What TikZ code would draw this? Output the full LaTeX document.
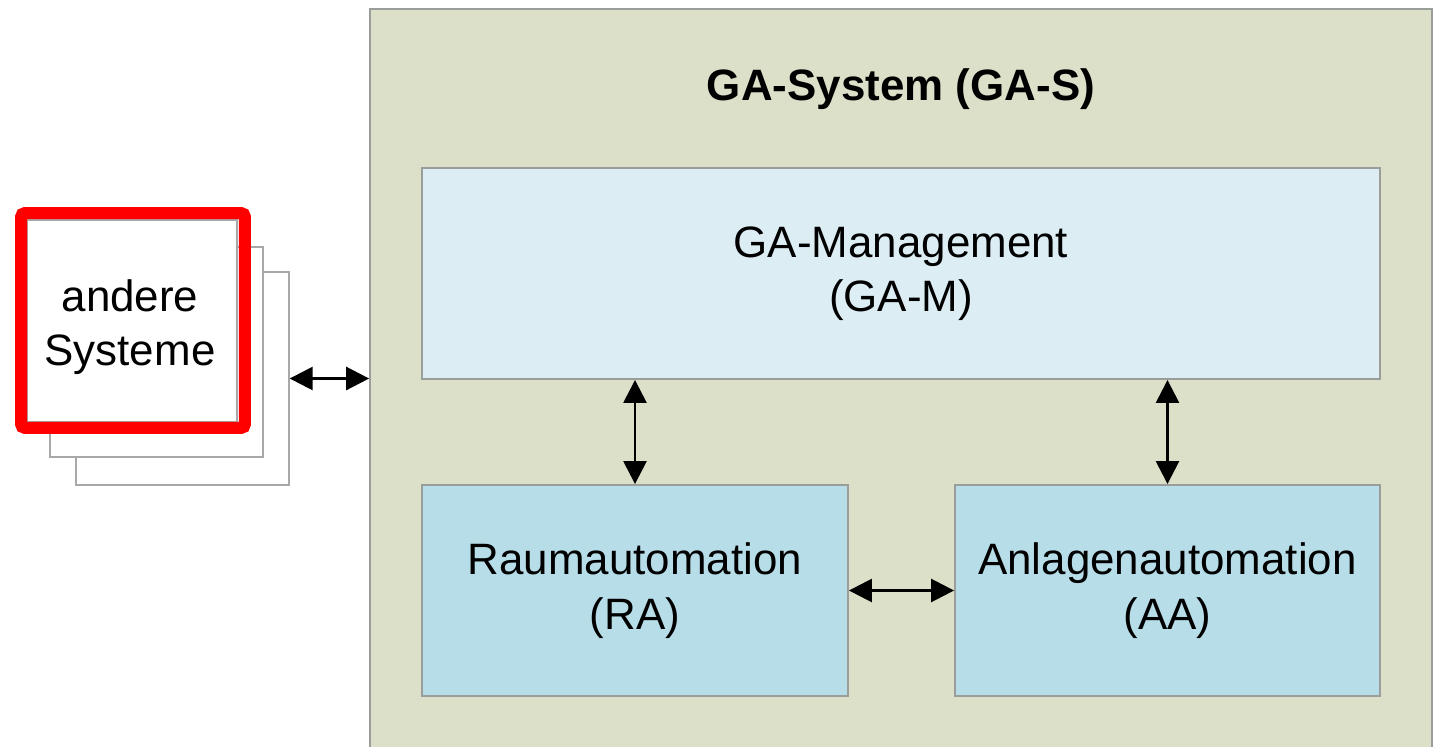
\documentclass[tikz,border=0pt]{standalone}
\usepackage{fontspec}
\setmainfont{Liberation Sans}
\usetikzlibrary{arrows.meta}
\definecolor{sysfill}{HTML}{DDE0C9}
\definecolor{mgmtfill}{HTML}{DCEDF4}
\definecolor{autofill}{HTML}{B7DDE8}
\definecolor{frame}{HTML}{9A9E9A}
\definecolor{cardline}{HTML}{A8A8A8}
\definecolor{mark}{HTML}{FF0000}
\tikzset{
  box/.style={draw=frame, line width=1.1pt, inner sep=0pt, align=center,
    font=\fontsize{25}{31}\selectfont},
  card/.style={draw=cardline, fill=white, line width=0.8pt, inner sep=0pt},
  tip/.style={},
  link/.style={line width=1.5pt, {Triangle[length=0.46cm,width=0.46cm]}-{Triangle[length=0.46cm,width=0.46cm]}},
}
\begin{document}
\begin{tikzpicture}[x=0.02cm, y=-0.02cm]
\useasboundingbox (0,0) rectangle (1438,747);
\clip (0,0) rectangle (1438,747);
\fill[white] (0,0) rectangle (1438,747);

% GA system frame and title
\node[box, fill=sysfill, anchor=north, minimum width=21.24cm, minimum height=15.4cm] (GAS) at (901,8) {};
\node[font=\fontsize{25}{31}\selectfont\bfseries, inner sep=0pt] (title) at (901,89) {GA-System (GA-S)};

% inner blocks
\node[box, fill=mgmtfill, minimum width=19.16cm, minimum height=4.22cm] (GAM) at (901,273.5) {GA-Management\\(GA-M)};
\node[box, fill=autofill, minimum width=8.52cm, minimum height=4.22cm] (RA) at (635,590.5) {Raumautomation\\(RA)};
\node[box, fill=autofill, minimum width=8.5cm, minimum height=4.22cm] (AA) at (1167.5,590.5) {Anlagenautomation\\(AA)};

% stacked cards for the other systems
\node[card, minimum width=4.26cm, minimum height=4.26cm] (card3) at (182.5,378.5) {};
\node[card, minimum width=4.26cm, minimum height=4.2cm] (card2) at (156.5,352) {};
\node[card, minimum width=4.2cm, minimum height=4.04cm] (card1) at (132,321) {};
\node[align=center, inner sep=0pt, font=\fontsize{25}{31}\selectfont] (cardtext) at (130,327) {andere\\Systeme};
\node[draw=mark, line width=0.24cm, rounded corners=0.08cm, inner sep=0pt,
  minimum width=4.48cm, minimum height=4.3cm] (highlight) at (133,320.5) {};

% connectors
\draw[link] (RA.north |- GAM.south) -- (RA.north);
\draw[link] (AA.north |- GAM.south) -- (AA.north);
\draw[link] (RA.east) -- (AA.west);
\draw[link] (card3.east) -- (card3.east -| GAS.west);
\end{tikzpicture}
\end{document}
